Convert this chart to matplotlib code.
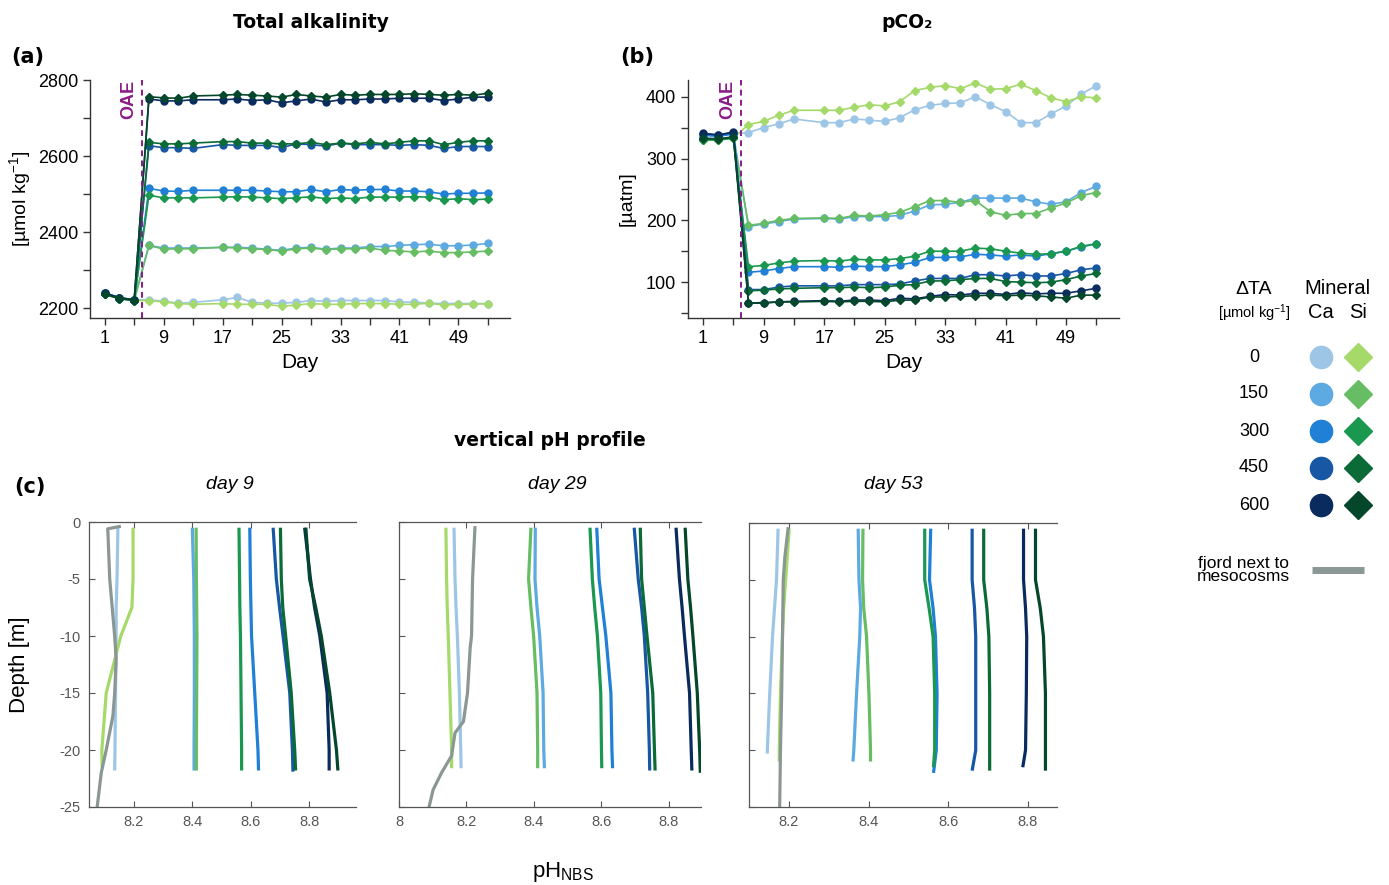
import matplotlib
matplotlib.use('Agg')
import matplotlib.pyplot as plt
import numpy as np

plt.rcParams['font.family'] = ['Liberation Sans', 'DejaVu Sans']
plt.rcParams['mathtext.fontset'] = 'custom'
plt.rcParams['mathtext.rm'] = 'Liberation Sans'
plt.rcParams['mathtext.it'] = 'Liberation Sans:italic'
plt.rcParams['mathtext.bf'] = 'Liberation Sans:bold'
plt.rcParams['axes.unicode_minus'] = False

# ---- data ----
days = [1, 3, 5, 7, 9, 11, 13, 17, 19, 21, 23, 25, 27, 29, 31, 33, 35, 37, 39, 41, 43, 45, 47, 49, 51, 53]
dta_levels = ['0', '150', '300', '450', '600']

ca_colors = ['#9DC6E6', '#5DA9E1', '#1F80D6', '#1757A4', '#0A2B5E']
si_colors = ['#A5D96A', '#66BD63', '#1A9850', '#0B6B36', '#05472A']
fjord_color = '#8A9794'
oae_color = '#8B1C87'

# total alkalinity [umol/kg]
ta_ca = [
    [2240, 2227, 2222, 2222, 2218, 2213, 2215, 2222, 2228, 2215, 2213, 2213, 2215, 2220, 2218, 2220, 2220, 2220, 2220, 2216, 2216, 2213, 2212, 2212, 2212, 2212],
    [2240, 2227, 2222, 2365, 2358, 2358, 2358, 2360, 2360, 2358, 2355, 2352, 2358, 2360, 2355, 2358, 2358, 2362, 2362, 2365, 2367, 2368, 2364, 2364, 2366, 2370],
    [2240, 2227, 2222, 2515, 2508, 2507, 2510, 2510, 2510, 2510, 2508, 2506, 2506, 2512, 2506, 2512, 2510, 2512, 2512, 2508, 2508, 2506, 2500, 2502, 2502, 2503],
    [2240, 2227, 2222, 2627, 2622, 2622, 2620, 2630, 2628, 2628, 2628, 2622, 2632, 2630, 2626, 2634, 2630, 2630, 2630, 2628, 2630, 2628, 2620, 2625, 2625, 2625],
    [2240, 2227, 2222, 2750, 2745, 2745, 2748, 2748, 2750, 2746, 2748, 2740, 2745, 2750, 2742, 2748, 2748, 2750, 2750, 2752, 2752, 2752, 2746, 2750, 2755, 2755],
]
ta_si = [
    [2236, 2225, 2220, 2220, 2216, 2212, 2210, 2212, 2210, 2210, 2210, 2205, 2208, 2212, 2210, 2210, 2212, 2212, 2212, 2210, 2210, 2213, 2208, 2210, 2210, 2212],
    [2236, 2225, 2220, 2365, 2355, 2356, 2356, 2360, 2358, 2356, 2354, 2350, 2356, 2358, 2354, 2356, 2356, 2358, 2352, 2350, 2348, 2350, 2346, 2346, 2348, 2350],
    [2236, 2225, 2220, 2497, 2490, 2490, 2490, 2492, 2493, 2492, 2490, 2488, 2490, 2493, 2488, 2490, 2488, 2492, 2492, 2492, 2493, 2492, 2485, 2488, 2485, 2487],
    [2236, 2225, 2220, 2636, 2632, 2632, 2634, 2638, 2638, 2634, 2634, 2632, 2632, 2636, 2630, 2634, 2632, 2636, 2632, 2636, 2640, 2640, 2630, 2636, 2640, 2640],
    [2238, 2226, 2221, 2756, 2753, 2752, 2758, 2760, 2762, 2760, 2758, 2755, 2762, 2758, 2755, 2762, 2760, 2762, 2762, 2762, 2764, 2762, 2760, 2762, 2760, 2765],
]

# pCO2 [uatm]
pco2_ca = [
    [338, 336, 340, 342, 350, 356, 364, 358, 358, 364, 362, 360, 366, 379, 386, 389, 390, 400, 387, 376, 358, 358, 372, 385, 404, 418],
    [338, 336, 340, 190, 194, 198, 202, 203, 202, 206, 206, 206, 208, 215, 225, 226, 229, 236, 236, 236, 236, 230, 226, 230, 245, 255],
    [338, 336, 340, 116, 118, 122, 125, 125, 124, 126, 125, 125, 128, 132, 140, 140, 141, 145, 144, 142, 144, 142, 146, 150, 157, 162],
    [340, 338, 342, 88, 88, 92, 94, 94, 94, 96, 96, 96, 97, 102, 106, 106, 106, 112, 112, 110, 112, 110, 110, 114, 120, 123],
    [341, 338, 343, 66, 67, 68, 69, 70, 69, 71, 71, 70, 74, 73, 77, 80, 79, 82, 82, 80, 83, 81, 82, 82, 86, 90],
]
pco2_si = [
    [330, 330, 333, 355, 360, 370, 378, 378, 378, 383, 387, 385, 392, 410, 415, 418, 413, 422, 412, 413, 420, 410, 398, 392, 400, 398],
    [330, 330, 333, 192, 195, 200, 203, 204, 203, 208, 207, 209, 213, 222, 232, 232, 229, 232, 214, 208, 211, 211, 220, 228, 240, 245],
    [330, 330, 333, 125, 127, 131, 134, 135, 134, 137, 136, 136, 138, 142, 150, 150, 150, 155, 154, 150, 147, 145, 146, 150, 158, 162],
    [332, 331, 334, 86, 87, 89, 90, 91, 91, 92, 91, 92, 95, 96, 102, 102, 104, 106, 106, 101, 100, 99, 100, 104, 110, 114],
    [333, 332, 335, 66, 66, 68, 68, 69, 68, 69, 69, 68, 71, 71, 76, 76, 77, 78, 79, 78, 79, 78, 76, 74, 79, 79],
]

# vertical pH profiles: values at these depths, then at each profile's bottom depth
prof_depth = [-0.5, -5, -7.5, -10, -15, -20]

ph_d9_ca = [
    [8.145, 8.142, 8.139, 8.139, 8.137, 8.135, 8.134],
    [8.400, 8.405, 8.406, 8.407, 8.407, 8.406, 8.406],
    [8.597, 8.599, 8.601, 8.603, 8.614, 8.625, 8.627],
    [8.677, 8.688, 8.699, 8.711, 8.734, 8.743, 8.745],
    [8.785, 8.805, 8.819, 8.837, 8.862, 8.869, 8.869],
]
ph_d9_si = [
    [8.197, 8.197, 8.193, 8.155, 8.105, 8.090, 8.091],
    [8.413, 8.414, 8.415, 8.416, 8.415, 8.414, 8.414],
    [8.560, 8.562, 8.563, 8.565, 8.567, 8.569, 8.569],
    [8.702, 8.705, 8.710, 8.720, 8.739, 8.751, 8.754],
    [8.789, 8.802, 8.823, 8.842, 8.871, 8.894, 8.899],
]
bottom_d9_ca = [-21.8, -21.8, -21.8, -21.9, -21.8]
bottom_d9_si = [-21.5, -21.8, -21.8, -21.8, -21.8]

ph_d29_ca = [
    [8.163, 8.166, 8.169, 8.173, 8.179, 8.183, 8.184],
    [8.404, 8.403, 8.409, 8.417, 8.427, 8.429, 8.431],
    [8.586, 8.593, 8.603, 8.613, 8.628, 8.631, 8.633],
    [8.697, 8.709, 8.719, 8.727, 8.737, 8.742, 8.743],
    [8.821, 8.831, 8.839, 8.846, 8.861, 8.866, 8.868],
]
ph_d29_si = [
    [8.139, 8.141, 8.143, 8.146, 8.151, 8.156, 8.156],
    [8.391, 8.384, 8.391, 8.399, 8.409, 8.411, 8.411],
    [8.566, 8.573, 8.580, 8.588, 8.598, 8.600, 8.601],
    [8.715, 8.719, 8.727, 8.735, 8.752, 8.757, 8.759],
    [8.848, 8.856, 8.864, 8.871, 8.884, 8.891, 8.893],
]
bottom_d29_ca = [-21.6, -21.6, -21.6, -21.8, -21.8]
bottom_d29_si = [-21.6, -21.6, -21.6, -21.8, -22.0]

ph_d53_ca = [
    [8.173, 8.169, 8.164, 8.159, 8.152, 8.146, 8.146],
    [8.374, 8.376, 8.380, 8.378, 8.370, 8.363, 8.361],
    [8.556, 8.553, 8.562, 8.568, 8.572, 8.570, 8.563],
    [8.660, 8.660, 8.666, 8.669, 8.669, 8.669, 8.660],
    [8.789, 8.789, 8.794, 8.797, 8.796, 8.794, 8.787],
]
ph_d53_si = [
    [8.201, 8.192, 8.187, 8.184, 8.179, 8.176, 8.176],
    [8.386, 8.385, 8.388, 8.395, 8.401, 8.405, 8.405],
    [8.541, 8.541, 8.552, 8.562, 8.566, 8.566, 8.563],
    [8.689, 8.689, 8.697, 8.702, 8.704, 8.704, 8.704],
    [8.819, 8.819, 8.831, 8.839, 8.844, 8.844, 8.844],
]
bottom_d53_ca = [-20.3, -21.0, -22.0, -21.8, -21.5]
bottom_d53_si = [-21.0, -21.0, -21.5, -21.8, -21.8]

# fjord next to mesocosms
fjord_d9_depth = [-0.4, -0.6, -1, -5, -10, -12, -15, -17, -20, -22, -25]
fjord_d9_ph = [8.150, 8.110, 8.111, 8.117, 8.134, 8.139, 8.134, 8.128, 8.105, 8.088, 8.074]
fjord_d29_depth = [-0.5, -5, -10, -11, -13, -15, -17.5, -18.5, -20.5, -22, -23.5, -25]
fjord_d29_ph = [8.225, 8.218, 8.215, 8.211, 8.207, 8.203, 8.191, 8.166, 8.156, 8.126, 8.101, 8.089]
fjord_d53_depth = [-0.5, -3, -5, -10, -15, -20, -25]
fjord_d53_ph = [8.198, 8.190, 8.186, 8.184, 8.182, 8.179, 8.177]

# ---- figure ----
W, H = 1389, 885
fig = plt.figure(figsize=(W / 100, H / 100), dpi=100)


def box(l, t, r, b):
    return [l / W, 1 - b / H, (r - l) / W, (b - t) / H]


def time_panel(ax, ca, si):
    for i in range(5):
        ax.plot(days, ca[i], '-o', color=ca_colors[i], ms=5, lw=1.2, mec=ca_colors[i])
        ax.plot(days, si[i], '-D', color=si_colors[i], ms=4.3, lw=1.2, mec=si_colors[i])
    ax.axvline(6, color=oae_color, ls=(0, (3, 2.2)), lw=1.4)
    ax.text(4.3, 1.0, 'OAE', transform=ax.get_xaxis_transform(), rotation=90,
            ha='center', va='top', color=oae_color, fontweight='bold', fontsize=13)
    ax.set_xlim(-1, 56)
    ax.set_xticks([1, 9, 17, 25, 33, 41, 49])
    ax.set_xticks([5, 13, 21, 29, 37, 45, 53], minor=True)
    for s in ['top', 'right']:
        ax.spines[s].set_visible(False)
    for s in ['left', 'bottom']:
        ax.spines[s].set_color('#333333')
        ax.spines[s].set_linewidth(1.0)
    ax.tick_params(which='both', length=5, width=1.0, color='#333333', labelsize=13)
    ax.set_xlabel('Day', fontsize=15)
    ax.xaxis.set_label_coords(0.5, -0.147)


ax_a = fig.add_axes(box(90, 80, 510, 318))
time_panel(ax_a, ta_ca, ta_si)
ax_a.set_ylim(2174, 2800)
ax_a.set_yticks([2200, 2400, 2600, 2800])
ax_a.set_yticks([2300, 2500, 2700], minor=True)
ax_a.set_ylabel(r'[µmol kg$^{-1}$]', fontsize=14)
ax_a.yaxis.set_label_coords(-0.136, 0.5)

ax_b = fig.add_axes(box(688, 80, 1119, 318))
time_panel(ax_b, pco2_ca, pco2_si)
ax_b.set_ylim(42, 427)
ax_b.set_yticks([100, 200, 300, 400])
ax_b.set_yticks([50, 150, 250, 350], minor=True)
ax_b.set_ylabel('[µatm]', fontsize=14)
ax_b.yaxis.set_label_coords(-0.121, 0.5)

fig.text(311 / W, 1 - 22 / H, 'Total alkalinity', ha='center', va='center',
         fontsize=13.5, fontweight='bold', family='DejaVu Sans')
fig.text(907 / W, 1 - 22 / H, 'pCO₂', ha='center', va='center',
         fontsize=13.5, fontweight='bold', family='DejaVu Sans')
fig.text(28 / W, 1 - 57 / H, '(a)', ha='center', va='center',
         fontsize=15, fontweight='bold', family='DejaVu Sans')
fig.text(637 / W, 1 - 57 / H, '(b)', ha='center', va='center',
         fontsize=15, fontweight='bold', family='DejaVu Sans')
fig.text(550 / W, 1 - 441 / H, 'vertical pH profile', ha='center', va='center',
         fontsize=13.5, fontweight='bold', family='DejaVu Sans')
fig.text(30 / W, 1 - 487 / H, '(c)', ha='center', va='center',
         fontsize=15, fontweight='bold', family='DejaVu Sans')

# profile panels
prof_sets = [
    ('day 9', box(89, 522, 356, 807), (8.046, 8.961), [8.2, 8.4, 8.6, 8.8], ['8.2', '8.4', '8.6', '8.8'],
     ph_d9_ca, ph_d9_si, bottom_d9_ca, bottom_d9_si, fjord_d9_depth, fjord_d9_ph, 230),
    ('day 29', box(399, 522, 701, 807), (8.0, 8.895), [8.0, 8.2, 8.4, 8.6, 8.8], ['8', '8.2', '8.4', '8.6', '8.8'],
     ph_d29_ca, ph_d29_si, bottom_d29_ca, bottom_d29_si, fjord_d29_depth, fjord_d29_ph, 557),
    ('day 53', box(749, 523, 1057, 807), (8.1, 8.873), [8.2, 8.4, 8.6, 8.8], ['8.2', '8.4', '8.6', '8.8'],
     ph_d53_ca, ph_d53_si, bottom_d53_ca, bottom_d53_si, fjord_d53_depth, fjord_d53_ph, 893),
]

for k, (title, rect, xlim, xt, xtl, pca, psi, bca, bsi, fd, fph, tx) in enumerate(prof_sets):
    ax = fig.add_axes(rect)
    for i in range(5):
        ax.plot(pca[i], prof_depth + [bca[i]], color=ca_colors[i], lw=2.3, solid_capstyle='butt')
        ax.plot(psi[i], prof_depth + [bsi[i]], color=si_colors[i], lw=2.3, solid_capstyle='butt')
    ax.plot(fph, fd, color=fjord_color, lw=2.3)
    ax.set_xlim(*xlim)
    ax.set_ylim(-25, 0)
    ax.set_xticks(xt, xtl)
    ax.set_yticks([0, -5, -10, -15, -20, -25])
    if k > 0:
        ax.set_yticklabels([])
    ax.spines['right'].set_visible(False)
    for s in ['left', 'top', 'bottom']:
        ax.spines[s].set_color('#555555')
        ax.spines[s].set_linewidth(0.9)
    ax.tick_params(direction='in', top=True, length=4, width=0.8, color='#555555',
                   labelcolor='#555555', labelsize=10.5, pad=6)
    fig.text(tx / W, 1 - 485 / H, title, ha='center', va='center', fontsize=14, style='italic')

fig.text(20 / W, 1 - 665 / H, 'Depth [m]', rotation=90, ha='center', va='center', fontsize=16)
fig.text(563 / W, 1 - 872 / H, r'pH$_{\mathrm{NBS}}$', ha='center', va='center', fontsize=16)

# legend
lg = fig.add_axes([0, 0, 1, 1], facecolor='none')
lg.set_xlim(0, W)
lg.set_ylim(H, 0)
lg.axis('off')
lg.text(1254, 289, 'ΔTA', ha='center', va='center', fontsize=14)
lg.text(1254, 313, r'[µmol kg$^{-1}$]', ha='center', va='center', fontsize=10.5)
lg.text(1337, 289, 'Mineral', ha='center', va='center', fontsize=14.5)
lg.text(1321, 313, 'Ca', ha='center', va='center', fontsize=14.5)
lg.text(1358, 313, 'Si', ha='center', va='center', fontsize=14.5)
row_y = [357, 394, 431, 468, 505]
for i in range(5):
    lg.text(1254, row_y[i], dta_levels[i], ha='center', va='center', fontsize=13)
    lg.plot([1321], [row_y[i]], 'o', ms=16, color=ca_colors[i], mec=ca_colors[i])
    lg.plot([1358], [row_y[i]], 'D', ms=14, color=si_colors[i], mec=si_colors[i])
lg.text(1243, 570, 'fjord next to\nmesocosms', ha='center', va='center', fontsize=12.5, linespacing=0.85)
lg.plot([1312, 1364], [570, 570], color=fjord_color, lw=5, solid_capstyle='butt')

fig.savefig('out.png', dpi=100)
